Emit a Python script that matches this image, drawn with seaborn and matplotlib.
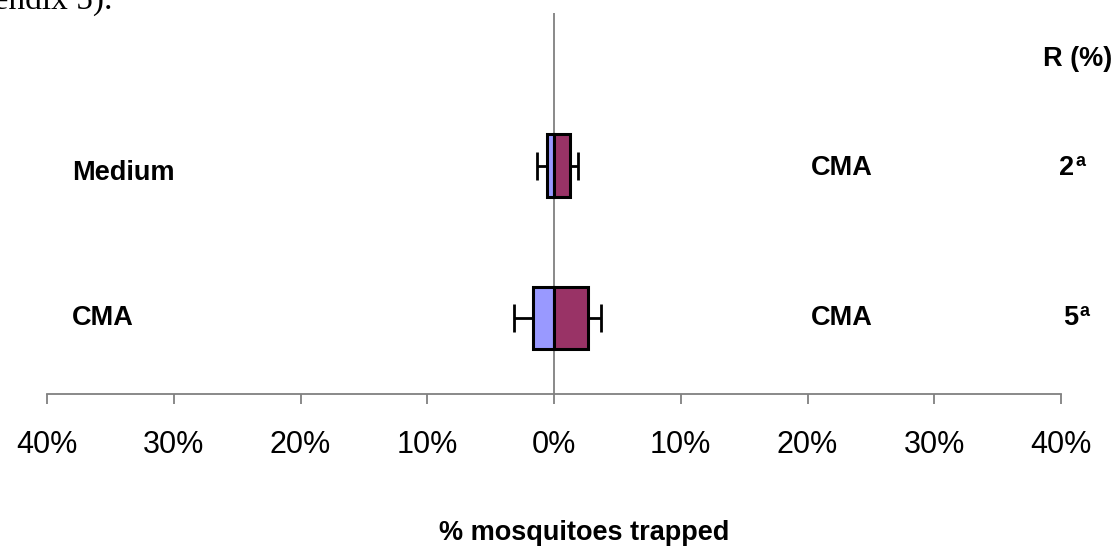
import matplotlib
matplotlib.use("Agg")
import matplotlib.pyplot as plt
import seaborn as sns
import pandas as pd

# ---- data ----
rows = ["Medium", "CMA"]                 # comparison rows (top to bottom)
left_labels = ["Medium", "CMA"]          # treatment on left side
right_labels = ["CMA", "CMA"]            # treatment on right side
left_pct = [0.55, 1.66]                  # % trapped, left (plotted to the left)
left_err = [0.82, 1.50]
right_pct = [1.26, 2.72]                 # % trapped, right
right_err = [0.61, 0.98]
r_values = ["2", "5"]
r_sup = ["a", "a"]
tick_values = [-40, -30, -20, -10, 0, 10, 20, 30, 40]
tick_labels = ["40%", "30%", "20%", "10%", "0%", "10%", "20%", "30%", "40%"]

sns.set_theme(style="white")
plt.rcParams["font.family"] = ["Liberation Sans", "DejaVu Sans"]
plt.rcParams["text.color"] = "black"
plt.rcParams["xtick.color"] = "black"

W, H = 1120, 550
fig = plt.figure(figsize=(W / 100, H / 100), dpi=100)
ax = fig.add_axes([47 / W, 1 - 394 / H, (1061 - 47) / W, (394 - 13) / H])

df_left = pd.DataFrame({"row": rows, "val": [-v for v in left_pct]})
df_right = pd.DataFrame({"row": rows, "val": right_pct})

sns.barplot(data=df_left, x="val", y="row", orient="h", color="#9999FF",
            saturation=1, width=0.41, edgecolor="black", linewidth=2.2,
            errorbar=None, ax=ax, zorder=3)
sns.barplot(data=df_right, x="val", y="row", orient="h", color="#993366",
            saturation=1, width=0.41, edgecolor="black", linewidth=2.2,
            errorbar=None, ax=ax, zorder=3)

ypos = list(range(len(rows)))
ax.errorbar([-v for v in left_pct], ypos, xerr=[left_err, [0] * len(rows)],
            fmt="none", ecolor="black", elinewidth=2, capsize=10,
            capthick=2, zorder=2)
ax.errorbar(right_pct, ypos, xerr=[[0] * len(rows), right_err],
            fmt="none", ecolor="black", elinewidth=2, capsize=10,
            capthick=2, zorder=2)

ax.axvline(0, color="#808080", lw=1.3, zorder=1)

ax.set_xlim(-40, 40)
ax.set_ylim(1.497, -1.0)
ax.set_xticks(tick_values)
ax.set_xticklabels(tick_labels, fontsize=22, color="black")
ax.set_yticks([])
ax.set_xlabel("")
ax.set_ylabel("")
for s in ["top", "left", "right"]:
    ax.spines[s].set_visible(False)
ax.spines["bottom"].set_color("#808080")
ax.spines["bottom"].set_linewidth(1.3)
ax.tick_params(axis="x", direction="out", length=7.2, width=1.3,
               color="#808080", pad=19, bottom=True, labelcolor="black")
ax.patch.set_alpha(0)

def ft(px, py, s, **kw):
    fig.text(px / W, 1 - py / H, s, color="black", **kw)

# left / right row labels
left_base = [180, 325]
right_base = [175, 325]
for i in range(len(rows)):
    ft(72, left_base[i], left_labels[i], fontsize=19.5, fontweight="bold",
       va="baseline", ha="left")
    ft(842, right_base[i], right_labels[i], fontsize=19.5, fontweight="bold",
       va="baseline", ha="center")

# R column
ft(1078, 66, "R (%)", fontsize=19.5, fontweight="bold", va="baseline", ha="center")
r_base = [175, 325]
r_x = [1059, 1063]
for i in range(len(rows)):
    ft(r_x[i], r_base[i], r_values[i], fontsize=19.5, fontweight="bold",
       va="baseline", ha="left")
    ft(r_x[i] + 16, r_base[i] - 9, r_sup[i], fontsize=13, fontweight="bold",
       va="baseline", ha="left")

# axis title
ft(584, 540, "% mosquitoes trapped", fontsize=19.5, fontweight="bold",
   va="baseline", ha="center")

# cropped body text at top-left
ft(113, 9, "Appendix 5).", fontsize=24, family="Liberation Serif",
   va="baseline", ha="right")

fig.savefig("out.png", dpi=100)
